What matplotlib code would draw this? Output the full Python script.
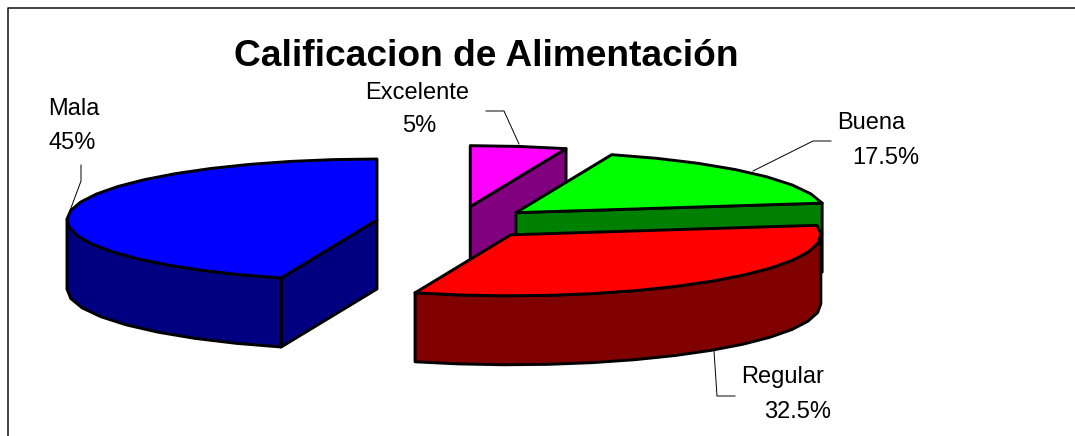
import matplotlib
matplotlib.use('Agg')
import matplotlib.pyplot as plt
import numpy as np
from matplotlib.patches import Polygon

plt.rcParams['font.family'] = ['Liberation Sans', 'DejaVu Sans']

# Datos
categorias = ['Excelente', 'Buena', 'Regular', 'Mala']
valores = [5, 17.5, 32.5, 45]
etiquetas = ['5%', '17.5%', '32.5%', '45%']
colores = ['#FF00FF', '#00FF00', '#FF0000', '#0000FF']
oscuros = ['#800080', '#008000', '#800000', '#000080']

# Geometria del pastel, en pixeles de la imagen
cx, cy = 457.5, 222.5
rx, ry = 310, 61
alto = 69
explosion = [0.263, 0.248, 0.265, 0.263]
paso = 8.0


def punto(x0, y0, ang):
    t = np.radians(ang)
    return x0 + rx * np.sin(t), y0 - ry * np.cos(t)


def arco(x0, y0, a, b):
    n = max(int((b - a) / paso), 1)
    angs = np.linspace(a, b, n + 1)
    return [punto(x0, y0, g) for g in angs]


def baja(pts):
    return [(x, y + alto) for x, y in pts]


fig = plt.figure(figsize=(10.75, 4.36), dpi=100)
ax = fig.add_axes([0, 0, 1, 1])
ax.set_xlim(0, 1075)
ax.set_ylim(436, 0)
ax.axis('off')

# Marco del grafico (abierto a la derecha y abajo, la imagen esta recortada)
ax.plot([7.5, 7.5, 1075], [436, 8.5, 8.5], color='#222222', lw=1.2)

# Angulos de cada rebanada
total = sum(valores)
inicios = np.cumsum([0] + valores[:-1]) / total * 360
finales = np.cumsum(valores) / total * 360

lw = 2.1
# Se pinta de atras hacia adelante
for i in [3, 0, 1, 2]:
    a, b = inicios[i], finales[i]
    medio = np.radians((a + b) / 2)
    x0 = cx + explosion[i] * rx * np.sin(medio)
    y0 = cy - explosion[i] * ry * np.cos(medio)
    kw = dict(edgecolor='black', linewidth=lw, joinstyle='round', zorder=3 + i)

    # cara plana que mira al frente
    if b <= 90:
        c = [(x0, y0), punto(x0, y0, b)]
        ax.add_patch(Polygon(c + baja(c)[::-1], facecolor=oscuros[i], **kw))
    if a > 180:
        c = [(x0, y0), punto(x0, y0, a)]
        ax.add_patch(Polygon(c + baja(c)[::-1], facecolor=oscuros[i], **kw))

    # borde curvo visible (mitad de abajo de la elipse)
    ini, fin = max(a, 90), min(b, 270)
    if ini < fin:
        c = arco(x0, y0, ini, fin)
        ax.add_patch(Polygon(c + baja(c)[::-1], facecolor=oscuros[i], **kw))

    # cara de arriba
    ax.add_patch(Polygon([(x0, y0)] + arco(x0, y0, a, b), facecolor=colores[i], **kw))

# Titulo
ax.text(486, 57, 'Calificacion de Alimentación', fontsize=26.7, fontweight='bold',
        ha='center', va='center', color='black')

# Etiquetas y lineas guia
fs = 17
ax.text(417, 93, categorias[0], fontsize=fs, ha='center', va='center')
ax.text(419.5, 126, etiquetas[0], fontsize=fs, ha='center', va='center')
ax.plot([486, 504, 519], [111, 111, 144], color='black', lw=0.7, zorder=20)

ax.text(871, 122.5, categorias[1], fontsize=fs, ha='center', va='center')
ax.text(885.5, 157.5, etiquetas[1], fontsize=fs, ha='center', va='center')
ax.plot([831, 813, 753], [141, 141, 171], color='black', lw=0.7, zorder=20)

ax.text(783, 377, categorias[2], fontsize=fs, ha='center', va='center')
ax.text(798, 412, etiquetas[2], fontsize=fs, ha='center', va='center')
ax.plot([735, 717, 714], [396, 396, 351], color='black', lw=0.7, zorder=20)

ax.text(48.5, 109, categorias[3], fontsize=fs, ha='left', va='center')
ax.text(48.5, 143, etiquetas[3], fontsize=fs, ha='left', va='center')
ax.plot([81, 81, 68], [165, 181, 216], color='black', lw=0.7, zorder=20)

fig.savefig('out.png', dpi=100)
